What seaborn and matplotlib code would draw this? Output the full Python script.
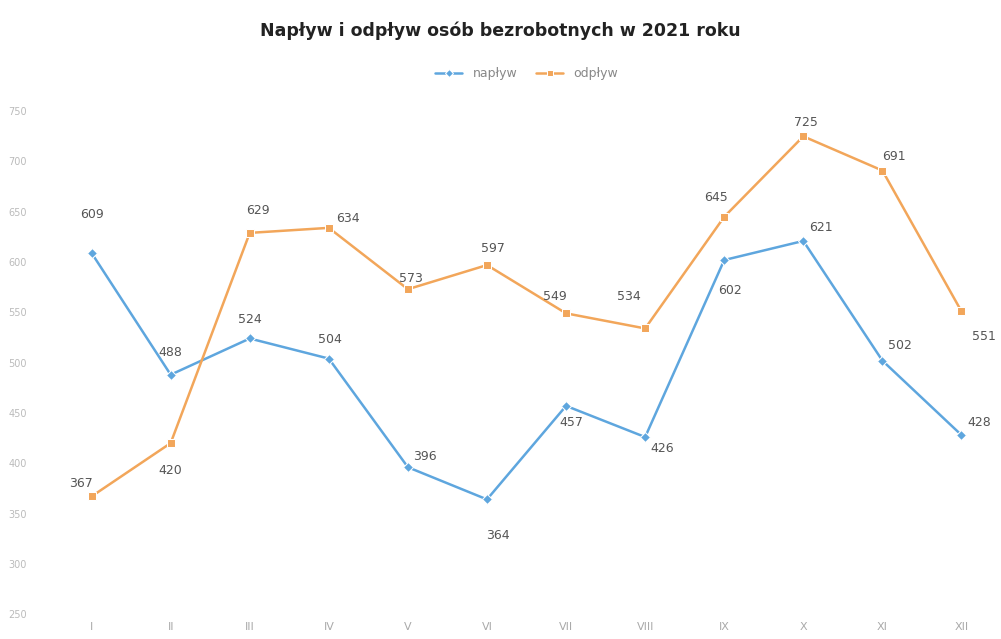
import matplotlib
matplotlib.use("Agg")
import matplotlib.pyplot as plt
import seaborn as sns
import pandas as pd

# Dane
miesiace = ["I", "II", "III", "IV", "V", "VI", "VII", "VIII", "IX", "X", "XI", "XII"]
naplyw = [609, 488, 524, 504, 396, 364, 457, 426, 602, 621, 502, 428]
odplyw = [367, 420, 629, 634, 573, 597, 549, 534, 645, 725, 691, 551]
y_ticks = [250, 300, 350, 400, 450, 500, 550, 600, 650, 700, 750]

# przesunięcia etykiet (punkty)
off_naplyw = [(0, 28), (0, 16), (0, 14), (1, 14), (12, 8), (8, -26), (4, -12), (12, -8), (4, -22), (13, 10), (13, 11), (13, 9)]
off_odplyw = [(-8, 9), (0, -20), (6, 16), (14, 7), (2, 8), (4, 12), (-8, 12), (-12, 23), (-6, 14), (2, 10), (8, 10), (16, -18)]

BLUE = "#5ea6de"
ORANGE = "#f2a65a"

df = pd.DataFrame({
    "miesiac": miesiace * 2,
    "x": list(range(len(miesiace))) * 2,
    "wartosc": naplyw + odplyw,
    "seria": ["napływ"] * len(miesiace) + ["odpływ"] * len(miesiace),
})

sns.set_style("white")
fig = plt.figure(figsize=(10.01, 6.39), dpi=100)
ax = fig.add_axes([0.052, 0.039, 0.948, 0.787])

sns.lineplot(data=df, x="x", y="wartosc", hue="seria", style="seria",
             palette={"napływ": BLUE, "odpływ": ORANGE},
             markers={"napływ": "D", "odpływ": "s"}, dashes=False,
             markersize=5.5, linewidth=1.8, ax=ax, legend=True)

for i, v in enumerate(naplyw):
    ax.annotate(str(v), (i, v), xytext=off_naplyw[i], textcoords="offset points",
                ha="center", va="center", fontsize=9, color="#555555")
for i, v in enumerate(odplyw):
    ax.annotate(str(v), (i, v), xytext=off_odplyw[i], textcoords="offset points",
                ha="center", va="center", fontsize=9, color="#555555")

ax.set_xlim(-0.5, 11.5)
ax.set_ylim(250, 750)
ax.set_xticks(range(len(miesiace)))
ax.set_xticklabels(miesiace, color="#aaaaaa", fontsize=8)
ax.set_yticks(y_ticks)
ax.set_yticklabels([str(t) for t in y_ticks], color="#bbbbbb", fontsize=7)
ax.tick_params(axis="both", length=0, pad=6)
ax.tick_params(axis="y", pad=18)
ax.set_xlabel("")
ax.set_ylabel("")
sns.despine(ax=ax, left=True, bottom=True)

ax.legend(loc="upper center", bbox_to_anchor=(0.5, 1.11), ncol=2, frameon=False,
          fontsize=9, labelcolor="#888888", handlelength=2.2, columnspacing=1.5,
          markerscale=0.8)

fig.text(0.5, 0.952, "Napływ i odpływ osób bezrobotnych w 2021 roku",
         ha="center", va="center", fontsize=12.5, fontweight="bold", color="#222222")

fig.savefig("out.png", dpi=100)
